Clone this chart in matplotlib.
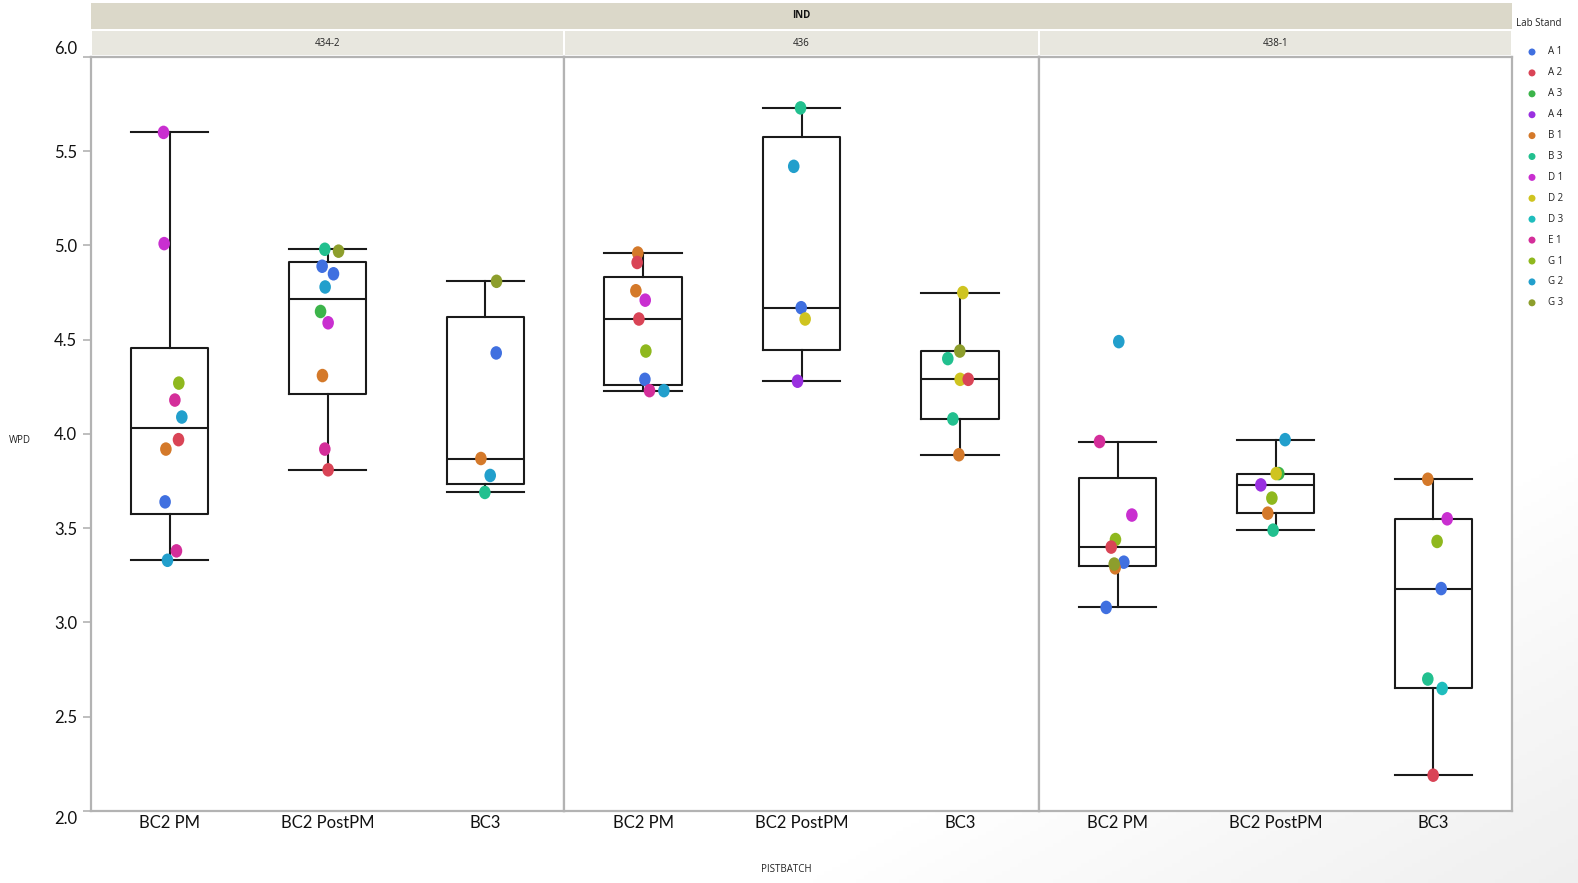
import numpy as np
import matplotlib
matplotlib.use("Agg")
import matplotlib.pyplot as plt
from matplotlib.patches import Rectangle, Ellipse
from matplotlib.path import Path
from matplotlib.transforms import Affine2D

# ---------------------------------------------------------------- data
ind_levels = ["434-2", "436", "438-1"]
batches = ["BC2 PM", "BC2 PostPM", "BC3"]
y_ticks = [2.0, 2.5, 3.0, 3.5, 4.0, 4.5, 5.0, 5.5, 6.0]

lab_stands = ["A 1", "A 2", "A 3", "A 4", "B 1", "B 3", "D 1",
              "D 2", "D 3", "E 1", "G 1", "G 2", "G 3"]
lab_colors = ["#4070e0", "#d94456", "#3cb44a", "#9a30e0", "#d4792a",
              "#22c08f", "#c92fd0", "#cfc420", "#1fbdbd", "#d42e9a",
              "#8fb81e", "#229fcc", "#8d9e2c"]

# IND 434-2
i4342_bc2pm_lab = ["D 1", "D 1", "G 1", "E 1", "G 2", "A 2", "B 1", "A 1", "E 1", "G 2"]
i4342_bc2pm_wpd = [5.60, 5.01, 4.27, 4.18, 4.09, 3.97, 3.92, 3.64, 3.38, 3.33]
i4342_bc2postpm_lab = ["B 3", "G 3", "A 1", "A 1", "G 2", "A 3", "D 1", "B 1", "E 1", "A 2"]
i4342_bc2postpm_wpd = [4.98, 4.97, 4.89, 4.85, 4.78, 4.65, 4.59, 4.31, 3.92, 3.81]
i4342_bc3_lab = ["G 3", "A 1", "B 1", "G 2", "B 3"]
i4342_bc3_wpd = [4.81, 4.43, 3.87, 3.78, 3.69]

# IND 436
i436_bc2pm_lab = ["B 1", "A 2", "B 1", "D 1", "A 2", "G 1", "A 1", "E 1", "G 2"]
i436_bc2pm_wpd = [4.96, 4.91, 4.76, 4.71, 4.61, 4.44, 4.29, 4.23, 4.23]
i436_bc2postpm_lab = ["B 3", "G 2", "A 1", "D 2", "A 4"]
i436_bc2postpm_wpd = [5.73, 5.42, 4.67, 4.61, 4.28]
i436_bc3_lab = ["D 2", "G 3", "B 3", "D 2", "A 2", "B 3", "B 1"]
i436_bc3_wpd = [4.75, 4.44, 4.40, 4.29, 4.29, 4.08, 3.89]

# IND 438-1
i4381_bc2pm_lab = ["G 2", "E 1", "D 1", "G 1", "A 2", "A 1", "B 1", "G 3", "A 1"]
i4381_bc2pm_wpd = [4.49, 3.96, 3.57, 3.44, 3.40, 3.32, 3.29, 3.31, 3.08]
i4381_bc2postpm_lab = ["G 2", "A 3", "D 2", "A 4", "G 1", "B 1", "B 3"]
i4381_bc2postpm_wpd = [3.97, 3.79, 3.79, 3.73, 3.66, 3.58, 3.49]
i4381_bc3_lab = ["B 1", "D 1", "G 1", "A 1", "B 3", "D 3", "A 2"]
i4381_bc3_wpd = [3.76, 3.55, 3.43, 3.18, 2.70, 2.65, 2.19]

# horizontal jitter of the points (category units)
i4342_bc2pm_jit = [-0.040, -0.036, 0.057, 0.032, 0.076, 0.055, -0.025, -0.030, 0.042, -0.015]
i4342_bc2postpm_jit = [-0.017, 0.070, -0.034, 0.038, -0.015, -0.044, 0.004, -0.032, -0.017, 0.004]
i4342_bc3_jit = [0.072, 0.070, -0.027, 0.032, -0.002]
i436_bc2pm_jit = [-0.034, -0.038, -0.046, 0.013, -0.027, 0.017, 0.011, 0.040, 0.131]
i436_bc2postpm_jit = [-0.006, -0.049, -0.002, 0.023, -0.025]
i436_bc3_jit = [0.019, 0.000, -0.076, 0.002, 0.053, -0.044, -0.006]
i4381_bc2pm_jit = [0.006, -0.116, 0.089, -0.015, -0.042, 0.038, -0.017, -0.023, -0.074]
i4381_bc2postpm_jit = [0.061, 0.021, 0.004, -0.093, -0.023, -0.049, -0.015]
i4381_bc3_jit = [-0.034, 0.089, 0.025, 0.051, -0.034, 0.057, 0.000]

groups = {
    "434-2": [(i4342_bc2pm_lab, i4342_bc2pm_wpd, i4342_bc2pm_jit),
              (i4342_bc2postpm_lab, i4342_bc2postpm_wpd, i4342_bc2postpm_jit),
              (i4342_bc3_lab, i4342_bc3_wpd, i4342_bc3_jit)],
    "436": [(i436_bc2pm_lab, i436_bc2pm_wpd, i436_bc2pm_jit),
            (i436_bc2postpm_lab, i436_bc2postpm_wpd, i436_bc2postpm_jit),
            (i436_bc3_lab, i436_bc3_wpd, i436_bc3_jit)],
    "438-1": [(i4381_bc2pm_lab, i4381_bc2pm_wpd, i4381_bc2pm_jit),
              (i4381_bc2postpm_lab, i4381_bc2postpm_wpd, i4381_bc2postpm_jit),
              (i4381_bc3_lab, i4381_bc3_wpd, i4381_bc3_jit)],
}
color_of = dict(zip(lab_stands, lab_colors))

# ---------------------------------------------------------------- helpers
W, H = 1578, 883
plt.rcParams["font.family"] = ["Open Sans", "DejaVu Sans"]
tick_font = ["Lato", "Open Sans", "DejaVu Sans"]


def rect(x0, y0, x1, y1):
    return [x0 / W, 1 - y1 / H, (x1 - x0) / W, (y1 - y0) / H]


def box_stats(vals, label):
    v = np.sort(np.asarray(vals, dtype=float))
    q1, med, q3 = np.quantile(v, [0.25, 0.5, 0.75], method="weibull")
    iqr = q3 - q1
    lo = v[v >= q1 - 1.5 * iqr].min()
    hi = v[v <= q3 + 1.5 * iqr].max()
    return dict(med=med, q1=q1, q3=q3, whislo=lo, whishi=hi, fliers=[], label=label)


# slightly tall ellipse marker
ellipse = Path.unit_circle().transformed(Affine2D().scale(1.0, 1.17))

fig = plt.figure(figsize=(W / 100, H / 100), dpi=100)
fig.patch.set_facecolor("white")

# soft shade in the lower-right corner of the canvas
bg = fig.add_axes([0, 0, 1, 1], zorder=-5)
bg.axis("off")
gx, gy = np.meshgrid(np.linspace(0, 1, 400), np.linspace(0, 1, 220))
shade = np.clip((gx + gy - 1.5) / 0.5, 0, 1)
rgba = np.zeros(gx.shape + (4,))
rgba[..., :3] = 0.55
rgba[..., 3] = 0.14 * shade
bg.imshow(rgba, extent=[0, 1, 0, 1], origin="upper", aspect="auto")
bg.set_xlim(0, 1)
bg.set_ylim(0, 1)

# facet header strips
fig.patches.append(Rectangle((91 / W, 1 - 29 / H), (1512 - 91) / W, 26 / H,
                             transform=fig.transFigure, facecolor="#dbd8c9",
                             edgecolor="none"))
fig.text((91 + 1512) / 2 / W, 1 - 16 / H, "IND", ha="center", va="center",
         fontsize=7, fontweight="bold", color="#111111")

panel_edges = [91, 564, 1039, 1512]
spine_col = "#b3b3b3"
for k, level in enumerate(ind_levels):
    x0, x1 = panel_edges[k], panel_edges[k + 1]
    fig.patches.append(Rectangle(((x0 + 1) / W, 1 - 55 / H), (x1 - x0 - 2) / W, 24 / H,
                                 transform=fig.transFigure, facecolor="#e8e7df",
                                 edgecolor="none"))
    fig.text((x0 + x1) / 2 / W, 1 - 43 / H, level, ha="center", va="center",
             fontsize=7, color="#222222")

    ax = fig.add_axes(rect(x0, 57, x1, 811))
    ax.set_xlim(-0.5, 2.5)
    ax.set_ylim(2.0, 6.0)
    for s in ax.spines.values():
        s.set_color(spine_col)
        s.set_linewidth(1.6)

    stats = [box_stats(g[1], b) for g, b in zip(groups[level], batches)]
    ax.bxp(stats, positions=range(3), widths=0.49, capwidths=0.49,
           showfliers=False, patch_artist=False,
           boxprops=dict(color="#1a1a1a", linewidth=1.5),
           medianprops=dict(color="#1a1a1a", linewidth=1.5),
           whiskerprops=dict(color="#1a1a1a", linewidth=1.5),
           capprops=dict(color="#1a1a1a", linewidth=1.5))

    for pos, (labs, vals, jit) in enumerate(groups[level]):
        for lab, val, dx in zip(labs, vals, jit):
            ax.scatter(pos + dx, val, s=95, marker=ellipse, color=color_of[lab],
                       edgecolors="none", zorder=4)

    ax.set_xticks(range(3))
    ax.set_xticklabels(batches, fontsize=12, family=tick_font)
    ax.tick_params(axis="x", length=0, pad=3, colors="#111111")
    ax.set_yticks(y_ticks)
    if k == 0:
        ax.set_yticklabels([f"{t:.1f}" for t in y_ticks], fontsize=12,
                           family=tick_font)
        ax.tick_params(axis="y", length=6, width=1.2, color=spine_col,
                       labelcolor="#111111", pad=4)
        ylabels = ax.get_yticklabels()
        ylabels[0].set_va("top")
        ylabels[-1].set_va("bottom")
    else:
        ax.tick_params(axis="y", length=0, labelleft=False)

fig.text(20 / W, 1 - 441 / H, "WPD", ha="center", va="center", fontsize=7,
         color="#222222")
fig.text(786 / W, 1 - 869 / H, "PISTBATCH", ha="center", va="center",
         fontsize=7, color="#222222")

# legend
fig.text(1539 / W, 1 - 24 / H, "Lab Stand", ha="center", va="center",
         fontsize=7, color="#222222")
for i, (lab, col) in enumerate(zip(lab_stands, lab_colors)):
    yy = 1 - (52 + i * 20.9) / H
    fig.patches.append(Ellipse((1532 / W, yy), 7 / W, 7 / H,
                               transform=fig.transFigure,
                               facecolor=col, edgecolor="none"))
    fig.text(1548 / W, yy, lab, ha="left", va="center", fontsize=7,
             color="#222222")

fig.savefig("out.png", dpi=100)
